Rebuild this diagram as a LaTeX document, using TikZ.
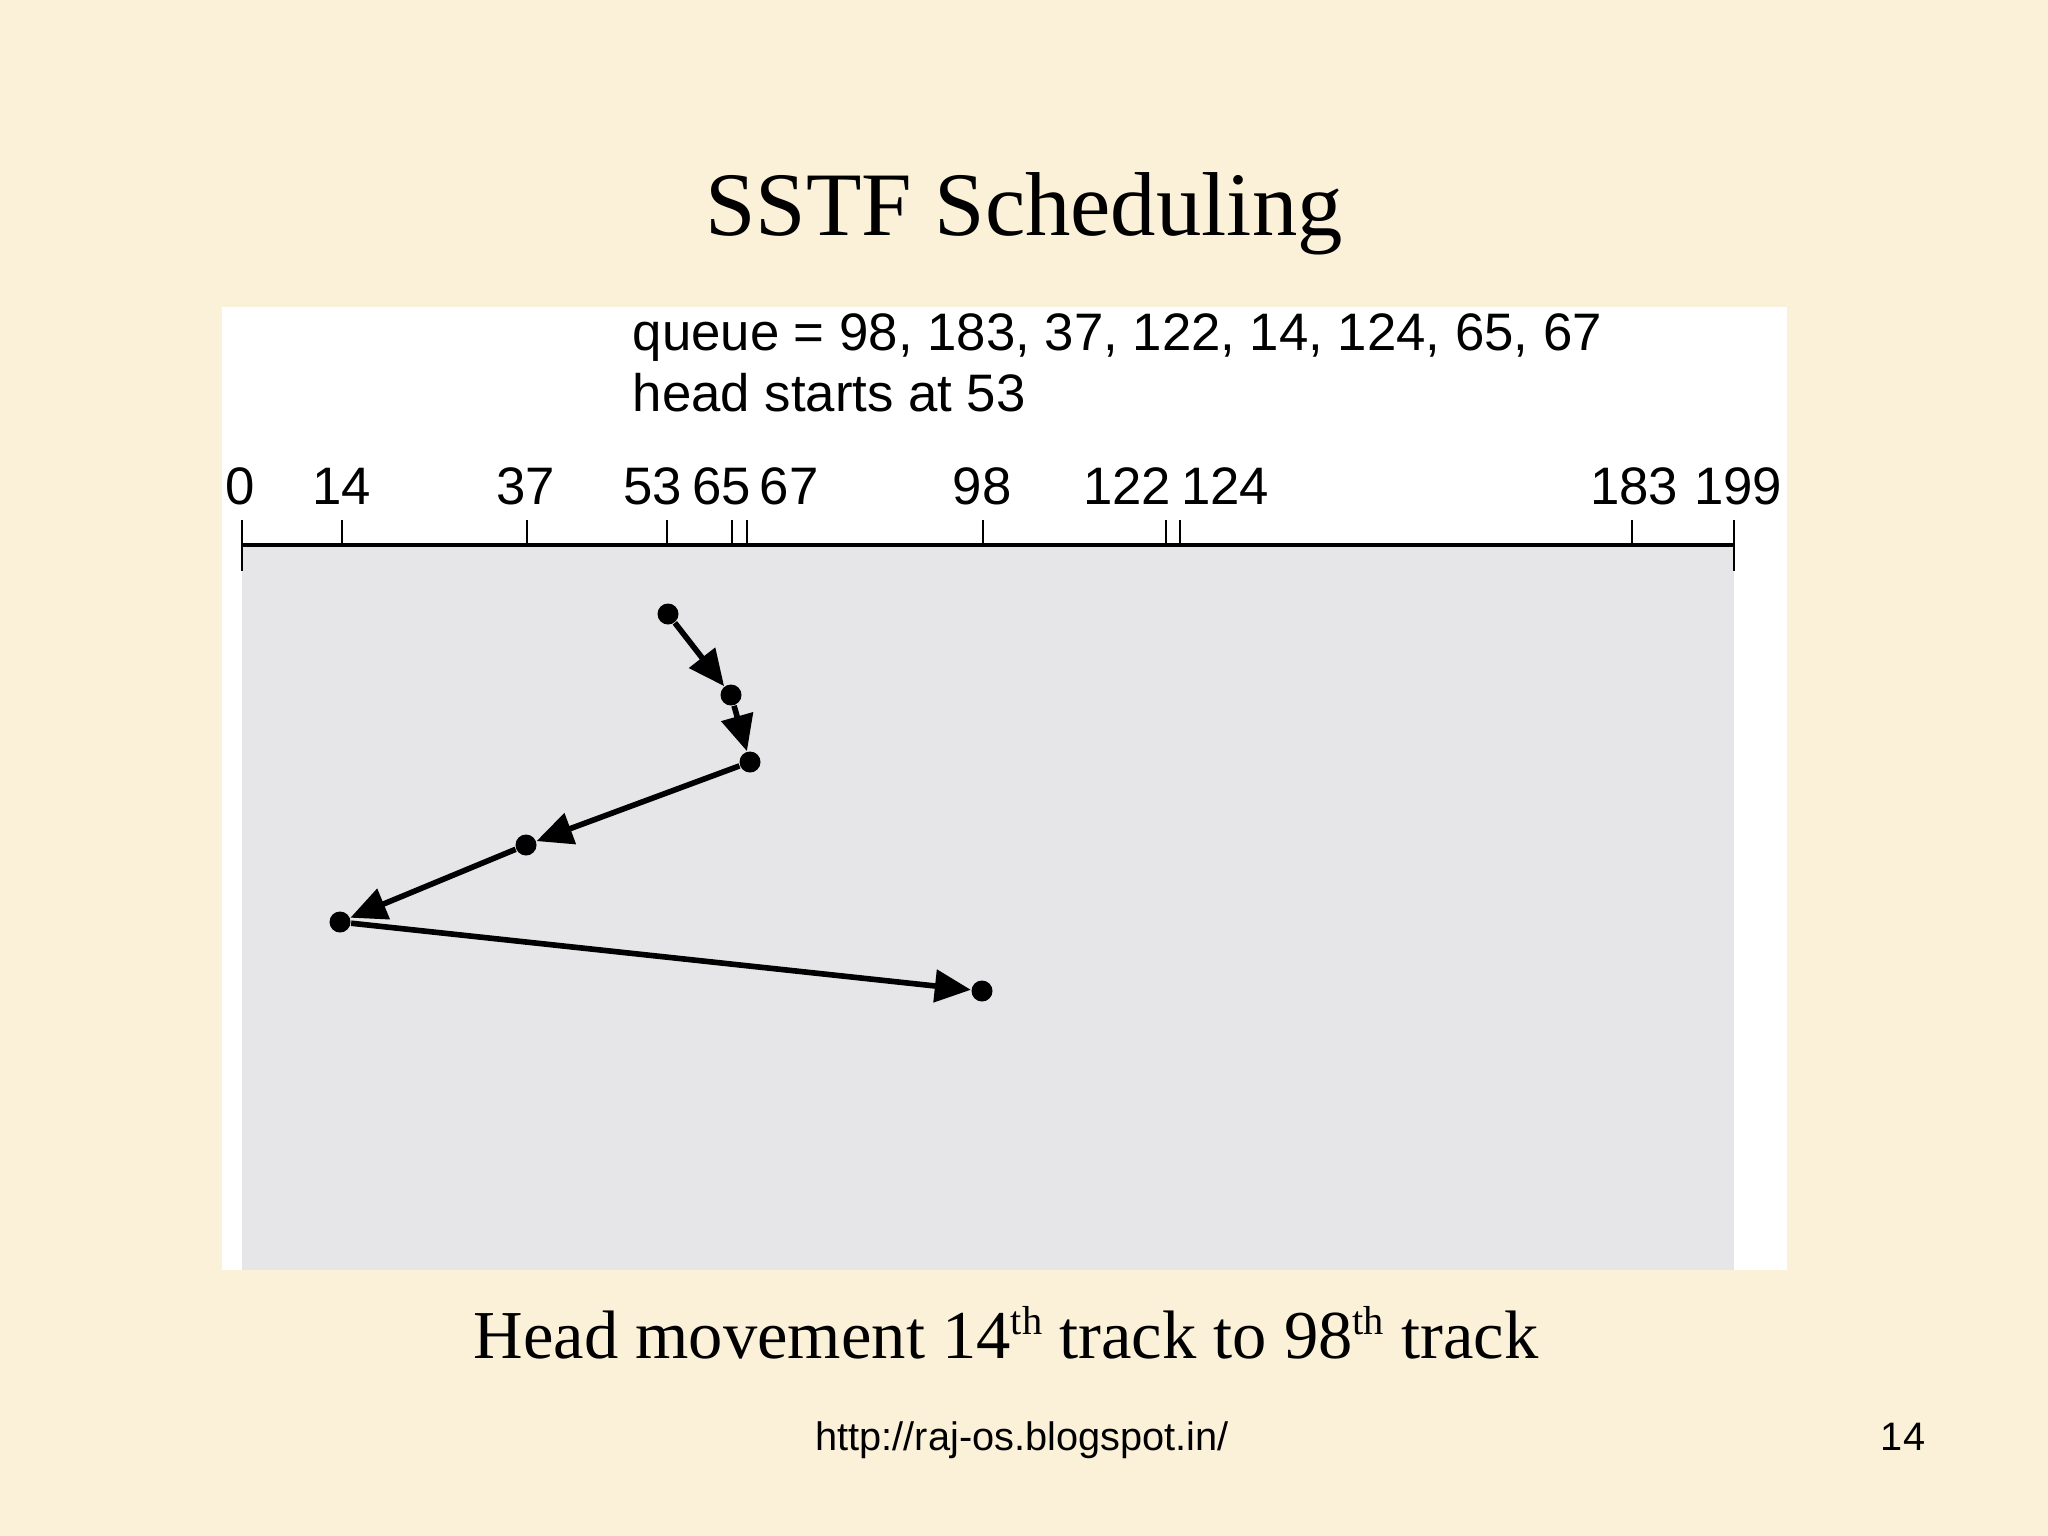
\documentclass[tikz,border=0pt]{standalone}
\usepackage{fontspec}
\setmainfont{Liberation Serif}
\setsansfont{Liberation Sans}
\usetikzlibrary{arrows.meta}
\definecolor{bgcream}{RGB}{251,241,216}
\definecolor{plotgray}{RGB}{230,229,232}
\newcommand{\ordsup}[1]{\raisebox{0.75ex}{\fontsize{11.5}{12}\selectfont #1}}
\begin{document}
\begin{tikzpicture}[x=0.01cm,y=-0.01cm,
  dot/.style={circle, fill=black, inner sep=0pt, minimum size=0.21cm},
  move/.style={-{Triangle[length=0.36cm,width=0.32cm]}, line width=1.6pt},
  tickmark/.style={line width=0.8pt},
  axisline/.style={line width=1.1pt},
  axlabel/.style={font=\sffamily\fontsize{15}{18}\selectfont, anchor=base, inner sep=0pt},
  infotext/.style={font=\sffamily\fontsize{15}{18}\selectfont, anchor=base west, inner sep=0pt},
  foot/.style={font=\sffamily\fontsize{11.3}{13}\selectfont, anchor=base, inner sep=0pt}]
\useasboundingbox (0,0) rectangle (2048,1536);
\fill[bgcream] (0,0) rectangle (2048,1536);
\fill[white] (222,307) rectangle (1787,1270);
\fill[plotgray] (242,545) rectangle (1734,1270);

% title
\node[anchor=base, inner sep=0pt, font=\fontsize{25.8}{30}\selectfont] (title) at (1024,235) {SSTF Scheduling};

% info text
\node[infotext] (queue) at (632,350) {queue = 98, 183, 37, 122, 14, 124, 65, 67};
\node[infotext] (head) at (632,411) {head starts at 53};

% axis
\draw[axisline] (242,545) -- (1734,545);
\draw[tickmark] (242,520) -- (242,571);
\draw[tickmark] (1734,520) -- (1734,571);
\foreach \x in {342,527,667,732,747,983,1166,1180,1632}
  \draw[tickmark] (\x,520) -- (\x,545);

% axis labels
\node[axlabel] (l0) at (240,504) {0};
\node[axlabel] (l14) at (342,504) {14};
\node[axlabel] (l37) at (526,504) {37};
\node[axlabel] (l53) at (653,504) {53};
\node[axlabel] (l65) at (722,504) {65};
\node[axlabel] (l67) at (789,504) {67};
\node[axlabel] (l98) at (982,504) {98};
\node[axlabel] (l122) at (1127,504) {122};
\node[axlabel] (l124) at (1225,504) {124};
\node[axlabel] (l183) at (1634,504) {183};
\node[axlabel] (l199) at (1738,504) {199};

% head positions
\node[dot] (p53) at (668,614) {};
\node[dot] (p65) at (731,695) {};
\node[dot] (p67) at (750,762) {};
\node[dot] (p37) at (526,845) {};
\node[dot] (p14) at (340,922) {};
\node[dot] (p98) at (982,991) {};

\draw[move] (p53) -- (p65);
\draw[move] (p65) -- (p67);
\draw[move] (p67) -- (p37);
\draw[move] (p37) -- (p14);
\draw[move] (p14) -- (p98);

% caption
\node[anchor=base, inner sep=0pt, font=\fontsize{19.5}{24}\selectfont] (caption) at (1006,1358)
  {Head movement 14\ordsup{th} track to 98\ordsup{th} track};

% footer
\node[foot] (url) at (1022,1450) {http://raj-os.blogspot.in/};
\node[foot] (page) at (1903,1450) {14};
\end{tikzpicture}
\end{document}
